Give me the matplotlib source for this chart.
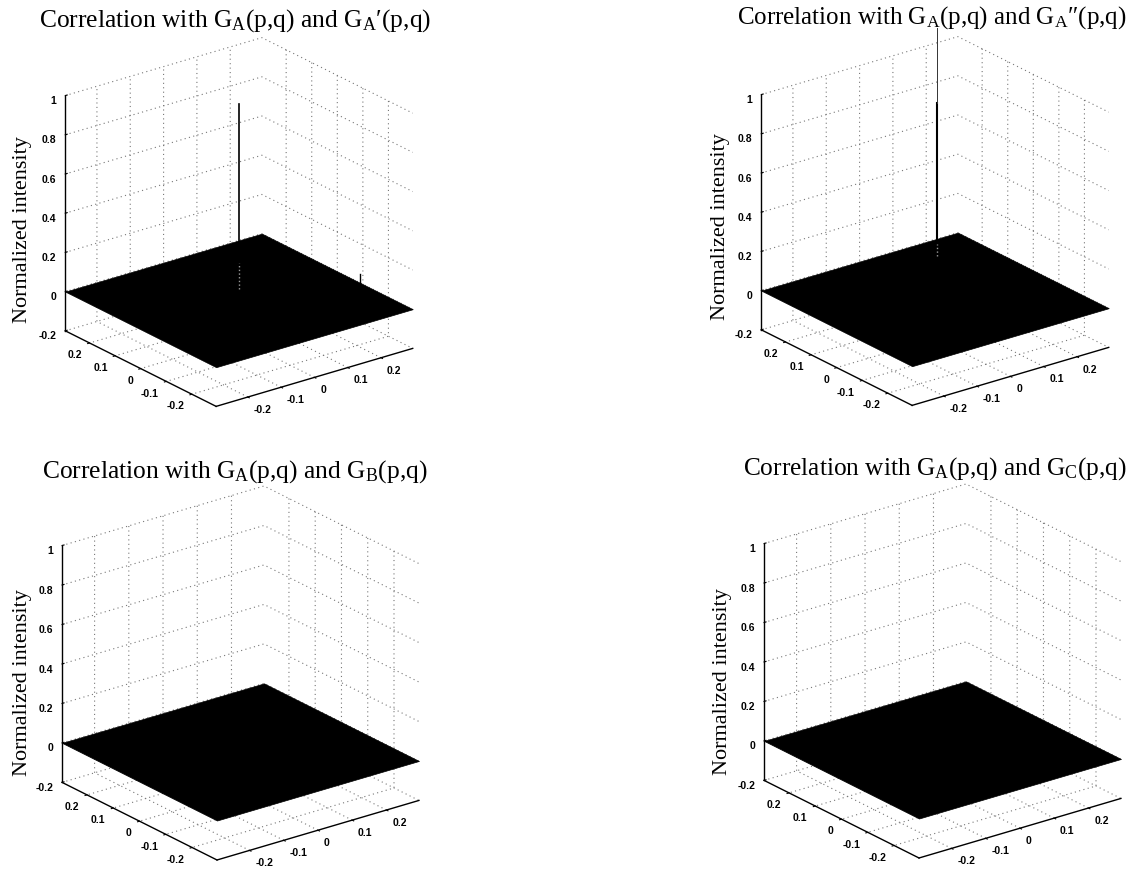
import matplotlib
matplotlib.use('Agg')
import matplotlib.pyplot as plt
import numpy as np

plt.rcParams['mathtext.fontset'] = 'custom'
plt.rcParams['mathtext.rm'] = 'Liberation Serif'
plt.rcParams['mathtext.it'] = 'Liberation Serif:italic'
plt.rcParams['mathtext.bf'] = 'Liberation Serif:bold'
plt.rcParams['grid.linestyle'] = (0, (1, 3))
plt.rcParams['grid.linewidth'] = 0.8
plt.rcParams['grid.color'] = '#777777'

# plate corners (p, q) and its height
plate_p = [-0.295, 0.295]
plate_q = [-0.295, 0.295]
plate_z = [[0, 0], [0, 0]]

pq_ticks = [-0.2, -0.1, 0, 0.1, 0.2]
pq_labels = ['-0.2', '-0.1', '0', '0.1', '0.2']
z_ticks = [-0.2, 0, 0.2, 0.4, 0.6, 0.8, 1]
z_labels = ['-0.2', '0', '0.2', '0.4', '0.6', '0.8', '1']

titles = [r"Correlation with $\mathrm{G}_\mathrm{A}$(p,q) and $\mathrm{G}_\mathrm{A}$" + "\u2032(p,q)",
          r"Correlation with $\mathrm{G}_\mathrm{A}$(p,q) and $\mathrm{G}_\mathrm{A}$" + "\u2033(p,q)",
          r"Correlation with $\mathrm{G}_\mathrm{A}$(p,q) and $\mathrm{G}_\mathrm{B}$(p,q)",
          r"Correlation with $\mathrm{G}_\mathrm{A}$(p,q) and $\mathrm{G}_\mathrm{C}$(p,q)"]

# spikes per panel: p, q, z bottom, z top
spike1_p = [0.0, 0.0]
spike1_q = [0.0, 0.0]
spike1_z = [0.28, 1.0]
ghost1_z = [0.06, 0.19]
small1_p = [0.27, 0.27]
small1_q = [-0.12, -0.12]
small1_z = [0.0, 0.08]
spike2_p = [0.005, 0.005]
spike2_q = [0.0, 0.0]
spike2_z = [0.28, 1.0]
spike2_thin_z = [1.0, 1.38]
ghost2_z = [0.22, 0.28]

# pixel layout of each panel: box centre x, y, plate side
centres = [(239, 223, 248), (935, 222, 248), (240.5, 674, 253), (942.5, 672, 253)]
title_pos = [(39, 27), (737, 24), (42, 478), (743, 475)]
title_size = [18.4, 18.0, 18.4, 18.3]
zlabel_pos = [(23, 230), (720, 227), (23, 683), (722, 682)]

W, H = 1134, 870
fig = plt.figure(figsize=(W / 100, H / 100), dpi=100)


def make_panel(i):
    cx, cy, side = centres[i]
    size = 420
    left = cx - 0.5135 * size
    bottom = H - cy - 0.5135 * size
    ax = fig.add_axes([left / W, bottom / H, size / W, size / H], projection='3d', proj_type='ortho')
    ax.computed_zorder = False
    ax.patch.set_alpha(0)
    ax.view_init(elev=22.6, azim=-127.5)
    ax.set_box_aspect((1, 1, 255 / side), zoom=side / (0.5896 * size))
    ax.set_xlim(plate_p[0], plate_p[1], view_margin=0)
    ax.set_ylim(plate_q[0], plate_q[1], view_margin=0)
    ax.set_zlim(-0.2, 1, view_margin=0)

    for axis in (ax.xaxis, ax.yaxis, ax.zaxis):
        axis.set_pane_color((1, 1, 1, 0))
        axis.pane.set_edgecolor('none')
        axis.line.set_linewidth(1.0)
        axis.line.set_color('black')
        axis._axinfo['tick']['inward_factor'] = 0.12
        axis._axinfo['tick']['outward_factor'] = 0.0
    ax.zaxis._axinfo['tick']['inward_factor'] = 0.0
    ax.zaxis._axinfo['tick']['outward_factor'] = 0.12
    ax.set_xticks(pq_ticks)
    ax.set_xticklabels(pq_labels)
    ax.set_yticks(pq_ticks)
    ax.set_yticklabels(pq_labels)
    ax.set_zticks(z_ticks)
    ax.set_zticklabels(z_labels)
    ax.zaxis.set_ticks_position('upper')
    ax.tick_params(axis='x', pad=-2, labelsize=7.5)
    ax.tick_params(axis='y', pad=-2, labelsize=7.5)
    ax.tick_params(axis='z', pad=-4, labelsize=7.5)
    for lab in ax.get_xticklabels() + ax.get_yticklabels() + ax.get_zticklabels():
        lab.set_fontfamily('Liberation Sans')
        lab.set_fontweight('bold')
    for lab in ax.get_xticklabels():
        lab.set_ha('left')
        lab.set_va('center')
    for lab in ax.get_yticklabels():
        lab.set_ha('right')
        lab.set_va('center')
    for lab in ax.get_zticklabels():
        lab.set_ha('right')

    pp, qq = np.meshgrid(plate_p, plate_q)
    ax.plot_surface(pp, qq, np.array(plate_z), color='black', shade=False, linewidth=0.5,
                    edgecolor='black', zorder=3)

    tx, ty = title_pos[i]
    fig.text(tx / W, 1 - ty / H, titles[i], family='Liberation Serif', fontsize=title_size[i],
             ha='left', va='baseline')
    zx, zy = zlabel_pos[i]
    fig.text(zx / W, 1 - zy / H, 'Normalized intensity', family='Liberation Serif', fontsize=16,
             rotation=90, ha='center', va='center')
    return ax


ax1 = make_panel(0)
ax1.plot(spike1_p, spike1_q, spike1_z, color='black', lw=1.2, zorder=4)
ax1.plot(spike1_p, spike1_q, ghost1_z, color='#999999', lw=1.0, ls=':', zorder=4)
ax1.plot(small1_p, small1_q, small1_z, color='black', lw=1.0, zorder=4)

ax2 = make_panel(1)
ax2.plot(spike2_p, spike2_q, spike2_z, color='black', lw=1.5, zorder=4)
ax2.plot(spike2_p, spike2_q, spike2_thin_z, color='#333333', lw=0.7, zorder=4)
ax2.plot(spike2_p, spike2_q, ghost2_z, color='#999999', lw=1.0, ls=':', zorder=4)

ax3 = make_panel(2)
ax4 = make_panel(3)

fig.savefig('out.png', dpi=100)
